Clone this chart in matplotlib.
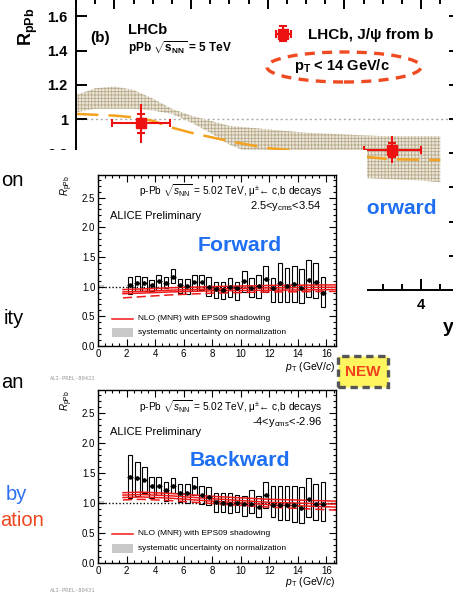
import matplotlib
matplotlib.use('Agg')
import matplotlib.pyplot as plt
from matplotlib.patches import Rectangle, Ellipse
from matplotlib.ticker import MultipleLocator

plt.rcParams['font.family'] = ['Liberation Sans', 'DejaVu Sans']
plt.rcParams['mathtext.fontset'] = 'custom'
plt.rcParams['mathtext.rm'] = 'Liberation Sans'
plt.rcParams['mathtext.it'] = 'Liberation Sans:italic'
plt.rcParams['mathtext.bf'] = 'Liberation Sans:bold'
plt.rcParams['hatch.linewidth'] = 0.6

# ---- LHCb (background panel) ----
lhcb_y = [-3.3, 3.25]
lhcb_r = [0.975, 0.82]
lhcb_yerr_tot = [0.115, 0.08]
lhcb_yerr_stat = [0.055, 0.04]
lhcb_xerr = [0.75, 0.75]

band_y = [-5, -4.5, -4, -3.5, -3, -2.5, -2, -1.5, -1, 0, 1, 2, 3, 4, 4.5]
band_hi = [1.14, 1.18, 1.19, 1.17, 1.12, 1.06, 1.02, 0.99, 0.96, 0.94, 0.92, 0.91, 0.90, 0.90, 0.90]
band_lo = [1.04, 1.06, 1.06, 1.06, 1.05, 1.03, 0.98, 0.92, 0.85, 0.76, 0.70, 0.66, 0.65, 0.64, 0.63]

eps_y = [-5, -4, -3.5, -3, -2.5, -2, -1, 0, 1, 2, 2.5, 3.2, 4.5]
eps_r = [1.03, 1.02, 1.01, 0.99, 0.95, 0.92, 0.87, 0.83, 0.81, 0.79, 0.78, 0.765, 0.76]

lhcb_yticks = [0, 0.2, 0.4, 0.6, 0.8, 1.0, 1.2, 1.4, 1.6]
lhcb_ylabels = ['', '', '', '', '0.8', '1', '1.2', '1.4', '1.6']
lhcb_xticks = [-4, -2, 0, 2, 4]
lhcb_xlabels = ['', '', '', '', '4']

# ---- ALICE ----
pt = [2.25, 2.75, 3.25, 3.75, 4.25, 4.75, 5.25, 5.75, 6.25, 6.75, 7.25, 7.75, 8.25, 8.75,
      9.25, 9.75, 10.25, 10.75, 11.25, 11.75, 12.25, 12.75, 13.25, 13.75, 14.25, 14.75, 15.25, 15.75]

fwd_r = [1.02, 1.06, 1.06, 1.03, 1.09, 1.06, 1.17, 1.02, 1.01, 1.07, 1.07, 1.00, 0.96, 0.94,
         0.99, 0.97, 1.09, 0.98, 1.01, 1.13, 0.98, 1.06, 1.01, 1.04, 0.98, 1.11, 1.08, 0.89]
fwd_hi = [1.17, 1.18, 1.17, 1.12, 1.19, 1.16, 1.30, 1.13, 1.13, 1.20, 1.20, 1.16, 1.08, 1.07,
          1.15, 1.07, 1.27, 1.15, 1.20, 1.35, 1.15, 1.39, 1.31, 1.34, 1.30, 1.45, 1.40, 1.16]
fwd_lo = [0.87, 0.92, 0.93, 0.92, 0.94, 0.97, 1.06, 0.89, 0.88, 0.93, 0.94, 0.85, 0.81, 0.79,
          0.83, 0.78, 0.91, 0.82, 0.81, 0.91, 0.74, 0.74, 0.74, 0.74, 0.72, 0.82, 0.81, 0.65]

bwd_r = [1.44, 1.42, 1.39, 1.28, 1.28, 1.21, 1.28, 1.17, 1.17, 1.27, 1.14, 1.10, 1.01, 1.00,
         0.99, 1.00, 0.99, 0.98, 0.93, 1.14, 0.97, 0.97, 0.96, 0.97, 0.92, 1.06, 0.99, 0.98]
bwd_hi = [1.79, 1.68, 1.60, 1.44, 1.43, 1.35, 1.42, 1.32, 1.32, 1.43, 1.29, 1.27, 1.16, 1.17,
          1.17, 1.14, 1.11, 1.21, 1.11, 1.35, 1.28, 1.29, 1.28, 1.28, 1.27, 1.41, 1.32, 1.35]
bwd_lo = [1.09, 1.11, 1.16, 1.09, 1.13, 1.04, 1.16, 1.02, 1.00, 1.13, 0.98, 0.97, 0.85, 0.85,
          0.83, 0.85, 0.79, 0.83, 0.77, 0.92, 0.77, 0.71, 0.71, 0.68, 0.66, 0.76, 0.71, 0.70]

mnr_pt = [1.75, 3, 5, 8, 12, 16.7]
fwd_mnr = [[0.95, 0.96, 0.98, 1.00, 1.02, 1.03],
           [0.91, 0.92, 0.94, 0.96, 0.98, 0.99],
           [0.88, 0.89, 0.91, 0.93, 0.94, 0.95]]
fwd_mnr_dash = [0.81, 0.83, 0.86, 0.89, 0.91, 0.92]
bwd_mnr = [[1.17, 1.18, 1.16, 1.11, 1.06, 1.03],
           [1.13, 1.14, 1.12, 1.07, 1.01, 0.98],
           [1.09, 1.10, 1.08, 1.03, 0.97, 0.93]]
bwd_mnr_dash = [1.05, 1.06, 1.04, 0.99, 0.93, 0.88]

W, H = 453, 592
fig = plt.figure(figsize=(W / 100, H / 100), dpi=100)


def fx(px):
    return px / W


def fy(py):
    return 1 - py / H


# LHCb axes (top edge slightly above the picture)
ax = fig.add_axes([fx(76), fy(290), (459.5 - 76) / W, 292 / H], zorder=0)
ax.set_xlim(-5, 5)
ax.set_ylim(0, 1.708)
ax.fill_between(band_y, band_lo, band_hi, facecolor='#ece7da', edgecolor='#b8ab8c',
                hatch='+++++', linewidth=0, zorder=1)
ax.axhline(1.0, color='#aaaaaa', lw=1, ls=(0, (1.5, 2)), zorder=0.5)
ax.plot(eps_y, eps_r, color='#f4a21e', lw=1.8, dashes=(9, 4), zorder=2)
ax.errorbar(lhcb_y, lhcb_r, yerr=lhcb_yerr_tot, fmt='none', ecolor='#ee1111', elinewidth=1.5, zorder=3)
h = ax.errorbar(lhcb_y, lhcb_r, xerr=lhcb_xerr, yerr=lhcb_yerr_stat, fmt='s', color='#ee1111',
                ms=7, elinewidth=1.5, capsize=3, capthick=1.5, zorder=4)
ax.set_yticks(lhcb_yticks)
ax.set_yticklabels(lhcb_ylabels)
ax.set_xticks(lhcb_xticks)
ax.set_xticklabels(lhcb_xlabels)
ax.xaxis.set_minor_locator(MultipleLocator(0.5))
ax.tick_params(which='both', direction='in', top=True, right=True, width=1.4)
ax.tick_params(which='major', length=8, labelsize=10.5, pad=6)
ax.tick_params(which='minor', length=4)
for lab in ax.get_xticklabels() + ax.get_yticklabels():
    lab.set_fontweight('bold')
for s in ax.spines.values():
    s.set_linewidth(1.4)
leg = ax.legend([h], ['LHCb, J/ψ from b'], loc='center left', bbox_to_anchor=(fx(258), fy(35)),
                bbox_transform=fig.transFigure, frameon=False, handlelength=2.3,
                prop={'weight': 'bold', 'size': 11}, borderpad=0, handletextpad=0.5)
fig.text(fx(90), fy(38), '(b)', fontsize=11, fontweight='bold', va='center')
fig.text(fx(128), fy(30), 'LHCb', fontsize=10.5, fontweight='bold', va='center')
fig.text(fx(128), fy(48), r'pPb $\sqrt{\mathbf{s}_{\mathbf{NN}}}$ = 5 TeV', fontsize=8.5,
         fontweight='bold', va='center')
fig.text(fx(342), fy(66), r'p$_{\mathbf{T}}$ < 14 GeV/c', fontsize=10.5, fontweight='bold',
         ha='center', va='center')
fig.patches.append(Ellipse((fx(344), fy(67)), 154 / W, 30 / H, transform=fig.transFigure,
                           fill=False, edgecolor='#f04a22', lw=2.4, ls=(0, (3, 2.2)), zorder=3))
fig.text(fx(28), fy(27), r'R$_{\mathbf{pPb}}$', fontsize=13, fontweight='bold', rotation=90,
         ha='center', va='center')
fig.text(fx(396), fy(208), 'Forward', fontsize=15, fontweight='bold', color='#1f6ff2',
         ha='center', va='center', zorder=0.5)
fig.text(fx(443), fy(328), 'y', fontsize=14, fontweight='bold', va='center', zorder=0.5)

# white cover (the pasted ALICE picture)
cover = fig.add_axes([fx(46), 0, 321 / W, 442 / H], zorder=1)
cover.set_facecolor('white')
cover.axis('off')
cover.add_patch(Rectangle((0, 0), 1, 1, transform=cover.transAxes, color='white'))


def alice_panel(rect, vals, hi, lo, mnr, mnr_dash, ytext, word):
    a = fig.add_axes(rect, zorder=2)
    a.set_xlim(0, 16.67)
    a.set_ylim(0, 2.88)
    a.axhline(1.0, color='black', lw=1, ls=(0, (1, 1.5)), zorder=1)
    a.add_patch(Rectangle((0.1, 0.97), 0.3, 0.06, color='#c8c8c8', lw=0, zorder=1))
    for m in mnr:
        a.plot(mnr_pt, m, color='#f01818', lw=1.1, zorder=3)
    a.plot(mnr_pt, mnr_dash, color='#f01818', lw=1.1, dashes=(6, 3), zorder=3)
    for x, l, u in zip(pt, lo, hi):
        a.add_patch(Rectangle((x - 0.16, l), 0.32, u - l, fill=False, edgecolor='black', lw=0.8, zorder=2))
    a.errorbar(pt, vals, xerr=0.2, yerr=0.03, fmt='o', color='black', ms=2.2, elinewidth=0.9, zorder=4)
    a.xaxis.set_major_locator(MultipleLocator(2))
    a.xaxis.set_minor_locator(MultipleLocator(0.5))
    a.yaxis.set_major_locator(MultipleLocator(0.5))
    a.yaxis.set_minor_locator(MultipleLocator(0.1))
    a.tick_params(which='both', direction='in', top=True, right=True, width=0.8, labelsize=7, pad=2)
    a.tick_params(which='major', length=5)
    a.tick_params(which='minor', length=2.5)
    for s in a.spines.values():
        s.set_linewidth(1.0)
    a.text(-0.13, 1.0, r'$R_{\rm pPb}$', transform=a.transAxes, rotation=90, fontsize=7,
           ha='center', va='top')
    a.text(0.941, ytext[0], r'p-Pb $\sqrt{s_{\rm NN}}$ = 5.02 TeV, μ$^{\pm}$← c,b decays',
           transform=a.transAxes, fontsize=7.3, ha='right', va='center')
    a.text(0.941, ytext[1], word[1], transform=a.transAxes, fontsize=8, ha='right', va='center')
    a.text(0.05, ytext[2], 'ALICE Preliminary', transform=a.transAxes, fontsize=8, va='center')
    a.text(0.597, 0.59, word[0], transform=a.transAxes, fontsize=15.3, fontweight='bold',
           color='#1f6ff2', ha='center', va='center')
    a.plot([0.059, 0.147], [ytext[3], ytext[3]], transform=a.transAxes, color='#f01818', lw=1.1)
    a.add_patch(Rectangle((0.059, ytext[4] - 0.026), 0.088, 0.052, transform=a.transAxes,
                          color='#c8c8c8', lw=0))
    a.text(0.168, ytext[3], 'NLO (MNR) with EPS09 shadowing', transform=a.transAxes,
           fontsize=6, va='center')
    a.text(0.168, ytext[4], 'systematic uncertainty on normalization', transform=a.transAxes,
           fontsize=6, va='center')
    return a


fwd = alice_panel([fx(98), fy(346), 238 / W, 171 / H], fwd_r, fwd_hi, fwd_lo, fwd_mnr, fwd_mnr_dash,
                  [0.91, 0.818, 0.76, 0.158, 0.078], ['Forward', r'2.5<y$_{\rm cms}$<3.54'])
bwd = alice_panel([fx(98), fy(563), 238 / W, 173 / H], bwd_r, bwd_hi, bwd_lo, bwd_mnr, bwd_mnr_dash,
                  [0.906, 0.814, 0.757, 0.168, 0.085], ['Backward', r'-4<y$_{\rm cms}$<-2.96'])

fig.text(fx(336), fy(367), r'$p_{\rm T}$ (GeV/$c$)', fontsize=7.5, ha='right', va='center', zorder=3)
fig.text(fx(336), fy(582), r'$p_{\rm T}$ (GeV/$c$)', fontsize=7.5, ha='right', va='center', zorder=3)
fig.text(fx(50), fy(378), 'ALI-PREL-80422', fontsize=4, family='DejaVu Sans Mono', color='#9a9a9a',
         va='center', zorder=3)
fig.text(fx(50), fy(590), 'ALI-PREL-80431', fontsize=4, family='DejaVu Sans Mono', color='#9a9a9a',
         va='center', zorder=3)

# NEW badge
fig.patches.append(Rectangle((fx(338), fy(387)), 50 / W, 31 / H, transform=fig.transFigure,
                             facecolor='#fff55e', edgecolor='#555555', lw=2.4, ls=(0, (2.2, 1.4)), zorder=5))
fig.text(fx(363), fy(372), 'NEW', fontsize=11, fontweight='bold', color='#f0401c',
         ha='center', va='center', zorder=6)

# slide text on the left
fig.text(fx(23), fy(180), 'on', fontsize=14.5, ha='right', va='center', zorder=3)
fig.text(fx(24), fy(318), 'ity', fontsize=14.5, ha='right', va='center', zorder=3)
fig.text(fx(23), fy(383), 'an', fontsize=14.5, ha='right', va='center', zorder=3)
fig.text(fx(27), fy(495), 'by', fontsize=14.5, color='#2c6ff0', ha='right', va='center', zorder=3)
fig.text(fx(44), fy(520), 'ation', fontsize=14.5, color='#f0481e', ha='right', va='center', zorder=3)

fig.savefig('out.png', dpi=100)
